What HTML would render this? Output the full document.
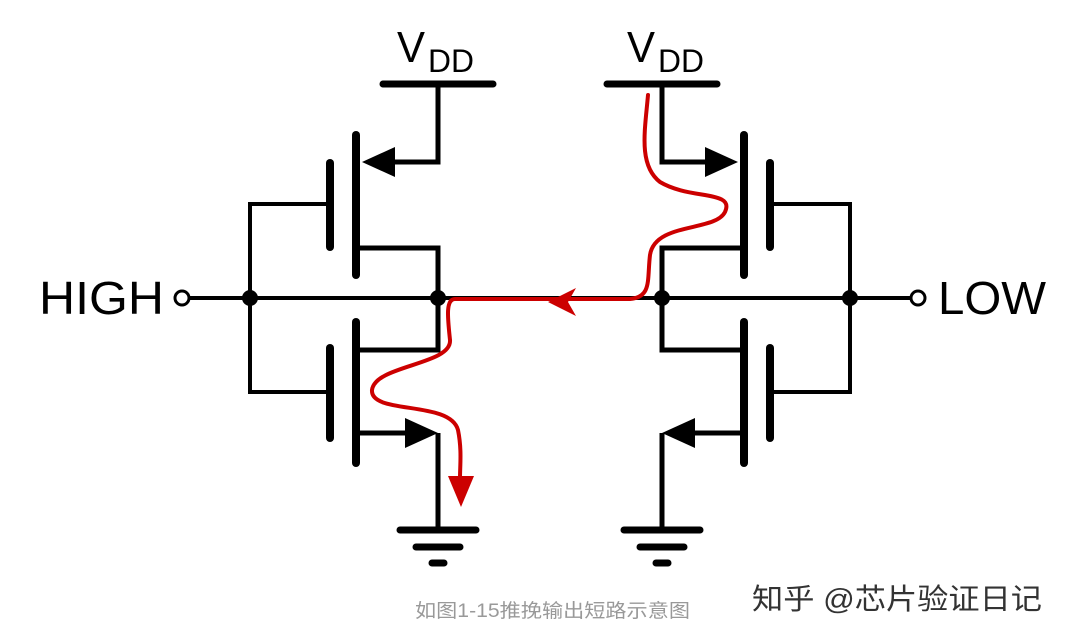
<!DOCTYPE html>
<html><head><meta charset="utf-8"><style>
html,body{margin:0;padding:0;background:#fff;}
svg{display:block}
</style></head><body>
<svg width="1071" height="641" viewBox="0 0 1071 641" xmlns="http://www.w3.org/2000/svg">
<defs>
<g id="half" stroke="#000" fill="none" stroke-linecap="butt">
  <line x1="383" y1="84" x2="493" y2="84" stroke-width="7" stroke-linecap="round"/>
  <polyline points="438,84 438,162 395,162" stroke-width="5"/>
  <polygon points="362,162 395,147 395,177" fill="#000" stroke="none"/>
  <line x1="356" y1="135" x2="356" y2="275" stroke-width="8" stroke-linecap="round"/>
  <line x1="330" y1="163" x2="330" y2="247" stroke-width="8" stroke-linecap="round"/>
  <polyline points="330,204 250,204 250,392 330,392" stroke-width="4"/>
  <polyline points="358,248 438,248 438,350 358,350" stroke-width="5"/>
  <line x1="356" y1="322" x2="356" y2="463" stroke-width="8" stroke-linecap="round"/>
  <line x1="330" y1="348" x2="330" y2="438" stroke-width="8" stroke-linecap="round"/>
  <line x1="358" y1="433" x2="405" y2="433" stroke-width="5"/>
  <polygon points="438,433 405,418 405,448" fill="#000" stroke="none"/>
  <polyline points="438,433 438,530" stroke-width="5"/>
  <line x1="400" y1="530" x2="476" y2="530" stroke-width="7" stroke-linecap="round"/>
  <line x1="416" y1="547" x2="460" y2="547" stroke-width="7" stroke-linecap="round"/>
  <line x1="432" y1="563" x2="444" y2="563" stroke-width="7" stroke-linecap="round"/>
  <line x1="188" y1="298" x2="438" y2="298" stroke-width="4"/>
  <circle cx="250" cy="298" r="8" fill="#000" stroke="none"/>
  <circle cx="438" cy="298" r="8" fill="#000" stroke="none"/>
  <circle cx="182" cy="298" r="7" fill="#fff" stroke-width="3"/>
</g>
</defs>
<use href="#half"/>
<use href="#half" transform="translate(1100,0) scale(-1,1)"/>
<line x1="438" y1="298" x2="662" y2="298" stroke="#000" stroke-width="4"/>
<g font-family="Liberation Sans, DejaVu Sans, sans-serif" fill="#000">
  <text x="397" y="62" font-size="44" textLength="28" lengthAdjust="spacingAndGlyphs">V</text><text x="428" y="72" font-size="32" textLength="46" lengthAdjust="spacingAndGlyphs">DD</text>
  <text x="627" y="62" font-size="44" textLength="28" lengthAdjust="spacingAndGlyphs">V</text><text x="658" y="72" font-size="32" textLength="46" lengthAdjust="spacingAndGlyphs">DD</text>
  <text x="39" y="314" font-size="46" textLength="125" lengthAdjust="spacingAndGlyphs">HIGH</text>
  <text x="938" y="314" font-size="46" textLength="108" lengthAdjust="spacingAndGlyphs">LOW</text>
</g>
<g stroke="#c00" fill="none" stroke-width="4" stroke-linecap="round">
  <path d="M648,95 C645,130 638,165 660,182 C690,200 735,190 725,212 C715,232 655,222 650,255 C647,280 652,297 630,299 L455,299 C445,299 448,320 450,340 C452,365 375,365 372,390 C370,415 450,400 458,430 C462,450 460,465 460,478"/>
</g>
<polygon points="448,476 474,476 461,507" fill="#c00"/>
<polygon points="548,302 576,288 568,302 576,316" fill="#c00"/>
<text x="415" y="617" font-family="Liberation Sans, Noto Sans CJK SC, sans-serif" font-size="19" fill="#999" textLength="275" lengthAdjust="spacingAndGlyphs">如图1-15推挽输出短路示意图</text>
<text x="752" y="609" font-family="Liberation Sans, Noto Sans CJK SC, sans-serif" font-size="29" fill="#333" textLength="290" lengthAdjust="spacingAndGlyphs">知乎 @芯片验证日记</text>
</svg>
</body></html>
